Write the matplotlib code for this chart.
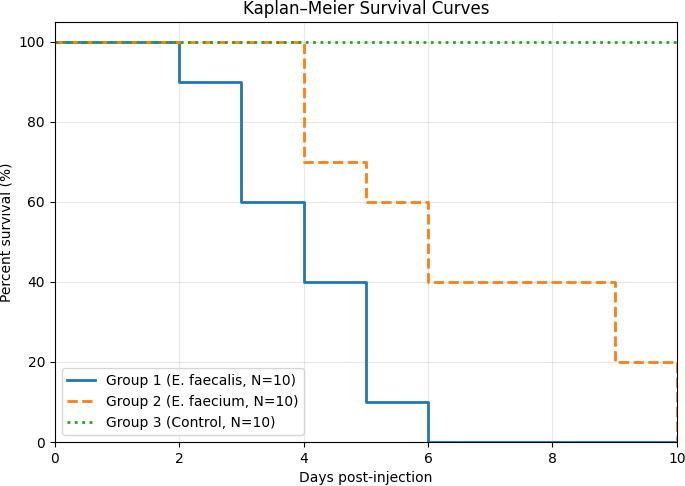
import matplotlib
matplotlib.use('Agg')
import matplotlib.pyplot as plt

# dados
dias_g1 = [0, 2, 3, 4, 5, 6, 10]
surv_g1 = [100, 90, 60, 40, 10, 0, 0]

dias_g2 = [0, 4, 5, 6, 9, 10]
surv_g2 = [100, 70, 60, 40, 20, 0]

dias_g3 = [0, 10]
surv_g3 = [100, 100]

rotulos = ["Group 1 (E. faecalis, N=10)",
           "Group 2 (E. faecium, N=10)",
           "Group 3 (Control, N=10)"]

fig, ax = plt.subplots(figsize=(6.85, 4.86), dpi=100)
fig.subplots_adjust(left=0.080, right=0.988, top=0.955, bottom=0.0905)

ax.plot(dias_g1, surv_g1, drawstyle='steps-post', color='#1f77b4', lw=2, label=rotulos[0])
ax.plot(dias_g2, surv_g2, drawstyle='steps-post', color='#ff7f0e', lw=2, ls='--', label=rotulos[1])
ax.plot(dias_g3, surv_g3, drawstyle='steps-post', color='#2ca02c', lw=2, ls=':', label=rotulos[2])

ax.set_xlim(0, 10)
ax.set_ylim(0, 105)
ax.set_yticks([0, 20, 40, 60, 80, 100])
ax.grid(True, alpha=0.3)
ax.set_xlabel("Days post-injection")
ax.set_ylabel("Percent survival (%)")
ax.set_title("Kaplan\u2013Meier Survival Curves")
ax.legend(loc='lower left')

plt.savefig("out.png", dpi=100)
